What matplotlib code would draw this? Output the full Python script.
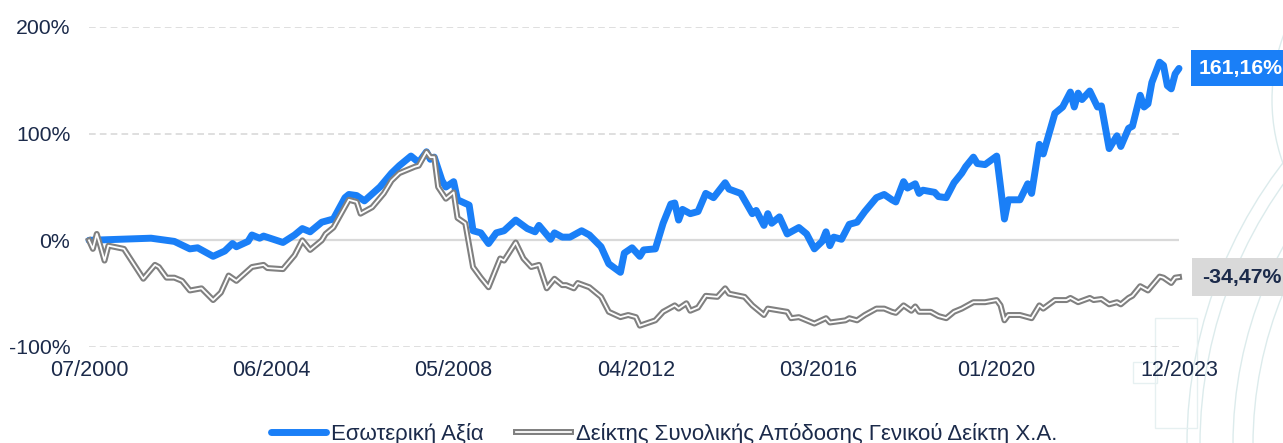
import matplotlib
matplotlib.use("Agg")
import matplotlib.pyplot as plt
from matplotlib.patches import Circle, Rectangle
from matplotlib.transforms import IdentityTransform
import matplotlib.patheffects as pe

# ---- data (months since 07/2000, cumulative return %) ----
tick_months = [0, 47, 94, 141, 188, 234, 281]
tick_labels = ["07/2000", "06/2004", "05/2008", "04/2012", "03/2016", "01/2020", "12/2023"]
y_ticks = [-100, 0, 100, 200]
y_labels = ["-100%", "0%", "100%", "200%"]

nav_name = "Εσωτερική Αξία"
nav_months = [0, 16, 22, 26, 28, 32, 35, 37, 38, 41, 42, 44, 45, 50, 53, 55, 57, 60, 63, 66,
              67, 69, 71, 75, 78, 80, 83, 85, 87, 88, 89, 91, 92, 94, 95, 98, 99, 101, 103, 105,
              107, 110, 113, 115, 116, 119, 120, 122, 124, 127, 129, 132, 134, 137, 138, 140, 142, 143, 146, 148,
              150, 151, 152, 153, 155, 157, 159, 161, 164, 165, 168, 171, 172, 174, 175, 176, 178, 180, 183, 185,
              187, 189, 190, 191, 192, 194, 196, 198, 200, 203, 205, 207, 208, 210, 211, 213, 214, 215, 218, 219,
              221, 223, 225, 226, 228, 229, 231, 234, 235, 236, 237, 240, 242, 243, 245, 246, 249, 251, 253, 254,
              255, 256, 258, 260, 261, 263, 265, 266, 268, 269, 271, 272, 273, 274, 276, 277, 278, 279, 280, 281]
nav_values = [0, 2, -1, -8, -7, -15, -10, -3, -6, -1, 5, 2, 4, -2, 5, 11, 8, 17, 20, 40,
              43, 42, 37, 50, 63, 70, 79, 73, 83, 76, 78, 56, 50, 55, 38, 33, 9, 7, -3, 7,
              9, 19, 11, 8, 14, 1, 7, 3, 3, 9, 5, -6, -22, -30, -12, -7, -15, -9, -8, 16,
              34, 35, 19, 29, 25, 27, 44, 40, 54, 48, 44, 25, 28, 14, 25, 16, 22, 6, 12, 6,
              -8, -1, 8, -5, 3, 1, 15, 17, 27, 40, 43, 38, 36, 55, 49, 53, 44, 47, 45, 41,
              40, 54, 63, 69, 78, 72, 71, 79, 50, 20, 38, 38, 53, 44, 90, 81, 119, 125, 139, 125,
              138, 132, 140, 125, 126, 86, 98, 88, 105, 107, 136, 125, 128, 148, 167, 164, 145, 142, 156, 161.16]

idx_name = "Δείκτης Συνολικής Απόδοσης Γενικού Δείκτη Χ.Α."
idx_months = [0, 1, 2, 3, 4, 5, 9, 14, 17, 18, 20, 22, 24, 26, 29, 32, 34, 36, 38, 42,
              45, 46, 50, 53, 55, 57, 60, 61, 63, 67, 69, 70, 73, 76, 78, 80, 82, 84, 85, 87,
              88, 89, 90, 92, 94, 95, 97, 99, 101, 103, 106, 107, 110, 112, 114, 116, 118, 120, 122, 123,
              125, 126, 129, 132, 134, 137, 139, 141, 142, 146, 148, 151, 152, 154, 155, 157, 159, 162, 164, 165,
              169, 171, 174, 175, 180, 181, 183, 187, 190, 191, 195, 196, 198, 200, 203, 205, 207, 208, 210, 212,
              213, 214, 217, 219, 221, 223, 225, 228, 231, 234, 235, 236, 237, 240, 243, 245, 246, 249, 252, 253,
              255, 258, 259, 261, 263, 265, 266, 268, 269, 271, 273, 276, 277, 279, 280, 281]
idx_values = [0, -8, 6, -6, -19, -5, -8, -36, -23, -25, -35, -35, -38, -47, -45, -56, -49, -33, -38, -25,
              -23, -26, -27, -14, 0, -9, 0, 6, 12, 38, 36, 25, 31, 44, 56, 63, 66, 69, 70, 83,
              78, 78, 50, 39, 45, 21, 16, -25, -35, -44, -17, -19, -2, -17, -25, -23, -45, -36, -42, -42,
              -45, -40, -44, -53, -67, -72, -70, -72, -80, -75, -67, -61, -64, -59, -66, -63, -52, -53, -45, -50,
              -53, -61, -70, -64, -67, -73, -72, -78, -73, -77, -75, -73, -75, -70, -64, -64, -67, -68, -61, -66,
              -62, -67, -67, -71, -73, -67, -64, -58, -58, -56, -61, -75, -70, -70, -73, -61, -64, -56, -56, -54,
              -58, -54, -56, -55, -60, -58, -60, -54, -52, -43, -47, -34, -35, -40, -35, -34.47]

nav_last_label = "161,16%"
idx_last_label = "-34,47%"

# ---- style ----
BLUE = "#1a7ff7"
GREY = "#808080"
TEXT = "#1b2a4a"
plt.rcParams["font.family"] = ["Liberation Sans", "DejaVu Sans"]

W, H = 1283, 443
fig = plt.figure(figsize=(W / 100, H / 100), dpi=100)

# faint decorative arcs on the right (watermark)
for r in [397, 417, 450, 463]:
    fig.add_artist(Circle((1650, H - 445), r, transform=IdentityTransform(), fill=False,
                          ec="#dcebec", lw=1.0, zorder=0))
fig.add_artist(Circle((1460, H - 100), 188, transform=IdentityTransform(), fill=False,
                      ec="#dcebec", lw=1.0, zorder=0))
fig.add_artist(Rectangle((1155, H - 428), 42, 110, transform=IdentityTransform(), fill=False,
                         ec="#e6f0f1", lw=1.0, zorder=0))
fig.add_artist(Rectangle((1133, H - 383), 24, 21, transform=IdentityTransform(), fill=False,
                         ec="#e6f0f1", lw=1.0, zorder=0))

ax = fig.add_axes([89 / W, 1 - 347 / H, (1179 - 89) / W, (347 - 27) / H])
ax.set_facecolor("none")
ax.set_xlim(0, 281)
ax.set_ylim(-100, 200)

for s in ax.spines.values():
    s.set_visible(False)

for yv in y_ticks:
    if yv == 0:
        ax.axhline(yv, color="#d9d9d9", lw=1.6, zorder=1)
    else:
        ax.axhline(yv, color="#d9d9d9", lw=1.2, ls=(0, (4, 2.5)), zorder=1)

ax.plot(nav_months, nav_values, color=BLUE, lw=5.0, solid_joinstyle="round",
        solid_capstyle="round", zorder=3, clip_on=False, label=nav_name)
ax.plot(idx_months, idx_values, color="white", lw=1.3, zorder=4, clip_on=False,
        solid_joinstyle="round", label=idx_name,
        path_effects=[pe.Stroke(linewidth=4.3, foreground=GREY), pe.Normal()])

ax.set_yticks(y_ticks)
ax.set_yticklabels(y_labels)
ax.set_xticks(tick_months)
ax.set_xticklabels(tick_labels)
ax.tick_params(axis="y", length=0, pad=13.5, labelsize=15.3, labelcolor=TEXT)
ax.tick_params(axis="x", length=0, pad=9, labelsize=15.5, labelcolor=TEXT)

# end-value labels
ax.annotate(nav_last_label, xy=(nav_months[-1], nav_values[-1]), xytext=(20, 0),
            textcoords="offset pixels", ha="left", va="center", color="white",
            fontsize=15.3, fontweight="bold", annotation_clip=False,
            bbox=dict(boxstyle="square,pad=0.4", fc=BLUE, ec="none"))
ax.annotate(idx_last_label, xy=(idx_months[-1], idx_values[-1]), xytext=(23, 0),
            textcoords="offset pixels", ha="left", va="center", color=TEXT,
            fontsize=15.3, fontweight="bold", annotation_clip=False,
            bbox=dict(boxstyle="square,pad=0.45", fc="#d9d9d9", ec="none"))

leg = fig.legend(loc="center", bbox_to_anchor=(664 / W, 1 - 434 / H), ncol=2, frameon=False,
                 fontsize=16, handlelength=2.5, handletextpad=0.2, columnspacing=1.45,
                 labelcolor=TEXT)

fig.savefig("out.png", dpi=100)
